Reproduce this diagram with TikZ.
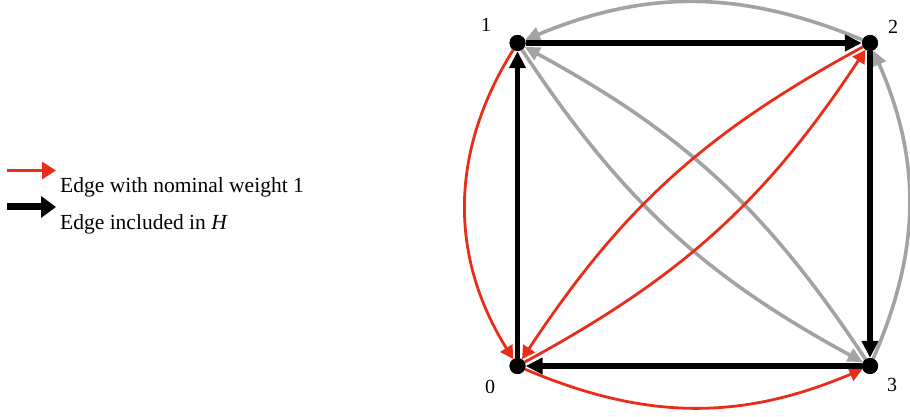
\documentclass[tikz,border=0pt]{standalone}
\usepackage{fontspec}
\setmainfont{Liberation Serif}
\usetikzlibrary{arrows.meta}
\definecolor{edgegray}{RGB}{163,163,163}
\definecolor{edgered}{RGB}{232,46,26}
\begin{document}
\begin{tikzpicture}[x=1pt,y=1pt,
  vtx/.style={circle,fill=black,minimum size=16pt,inner sep=0pt},
  lab/.style={font=\fontsize{20}{24}\selectfont,inner sep=0pt},
  legtext/.style={anchor=base west,font=\fontsize{21.5}{25}\selectfont,inner sep=0pt},
  blk/.style={line width=5.5pt,draw=black,-{Triangle[length=17pt,width=16pt]}},
  gry/.style={line width=3.6pt,draw=edgegray,-{Triangle[length=15pt,width=14pt]}},
  rd/.style={line width=2.8pt,draw=edgered,-{Triangle[length=13pt,width=14pt]}},
]
\useasboundingbox (0,0) rectangle (910,417);

% vertices
\node[vtx] (n1) at (517.5,374) {};
\node[vtx] (n2) at (870,374) {};
\node[vtx] (n0) at (517.5,51) {};
\node[vtx] (n3) at (870,51) {};

% labels
\node[lab] (l1) at (486,392) {1};
\node[lab] (l2) at (893,390) {2};
\node[lab] (l0) at (490,30) {0};
\node[lab] (l3) at (892,32) {3};

% gray edges
\draw[gry] (n2) to[bend right=22.5] (n1);
\draw[gry] (n3) to[bend right=23.5] (n2);
\draw[gry] (n3) to[bend right=14] (n1);
\draw[gry] (n1) to[bend right=14] (n3);

% red edges
\draw[rd] (n1) to[bend right=32] (n0);
\draw[rd] (n0) to[bend right=23] (n3);
\draw[rd] (n0) to[bend right=14] (n2);
\draw[rd] (n2) to[bend right=14] (n0);

% black edges
\draw[blk] (n1) -- (n2);
\draw[blk] (n2) -- (n3);
\draw[blk] (n3) -- (n0);
\draw[blk] (n0) -- (n1);

% redraw vertices on top
\node[vtx] at (n1) {};
\node[vtx] at (n2) {};
\node[vtx] at (n0) {};
\node[vtx] at (n3) {};

% legend
\coordinate (r0) at (7,246.5);
\coordinate (r1) at (56,246.5);
\draw[line width=3pt,draw=edgered,-{Triangle[length=14pt,width=17pt]}] (r0) -- (r1);
\coordinate (b0) at (7,210);
\coordinate (b1) at (56,210);
\draw[line width=7pt,draw=black,-{Triangle[length=15pt,width=21pt]}] (b0) -- (b1);
\node[legtext] (t1) at (60,224.5) {Edge with nominal weight 1};
\node[legtext] (t2) at (60,187) {Edge included in \textit{H}};
\end{tikzpicture}
\end{document}
